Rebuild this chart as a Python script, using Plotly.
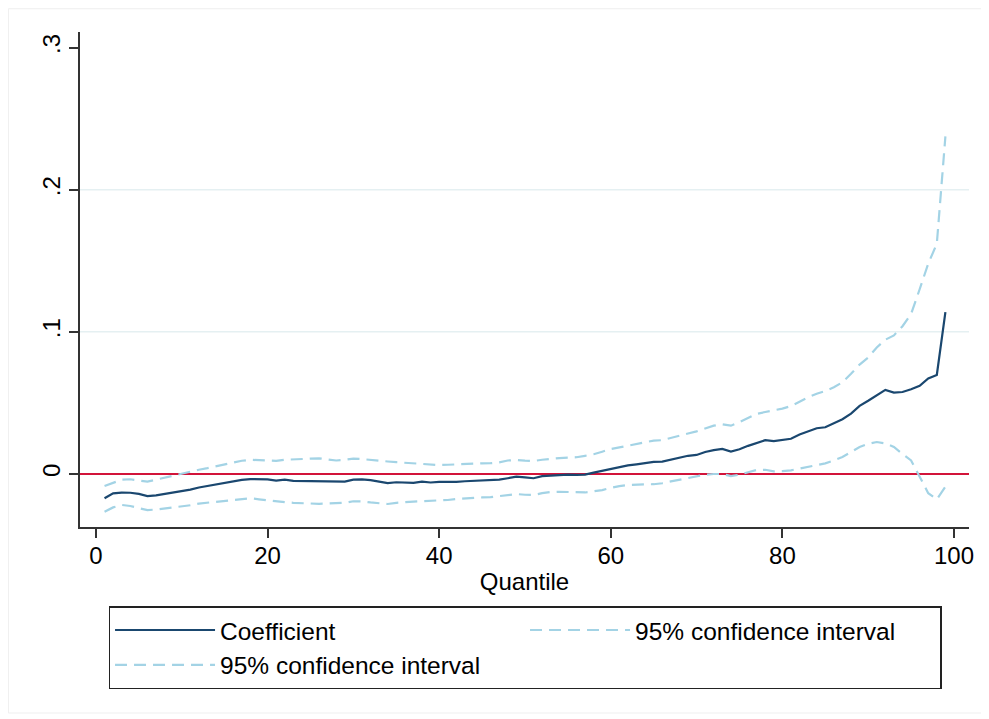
import plotly.graph_objects as go

quantile = list(range(1, 100))

coefficient = [
    -0.0171, -0.0136, -0.0131, -0.0132, -0.0140, -0.0155, -0.0150, -0.0140, -0.0132, -0.0124,
    -0.0110, -0.0095, -0.0084, -0.0077, -0.0064, -0.0053, -0.0042, -0.0036, -0.0037, -0.0038,
    -0.0046, -0.0040, -0.0048, -0.0049, -0.0054, -0.0051, -0.0055, -0.0055, -0.0054, -0.0040,
    -0.0038, -0.0043, -0.0056, -0.0064, -0.0058, -0.0058, -0.0062, -0.0054, -0.0060, -0.0056,
    -0.0058, -0.0056, -0.0051, -0.0048, -0.0046, -0.0044, -0.0040, -0.0030, -0.0019, -0.0024,
    -0.0030, -0.0015, -0.0011, -0.0008, -0.0005, -0.0006, -0.0004, 0.0010, 0.0022, 0.0036,
    0.0051, 0.0060, 0.0068, 0.0078, 0.0085, 0.0087, 0.0100, 0.0113, 0.0128, 0.0134,
    0.0155, 0.0168, 0.0176, 0.0158, 0.0174, 0.0198, 0.0220, 0.0238, 0.0232, 0.0240,
    0.0248, 0.0278, 0.0300, 0.0322, 0.0329, 0.0355, 0.0385, 0.0425, 0.0479, 0.0515,
    0.0553, 0.0592, 0.0573, 0.0577, 0.0596, 0.0620, 0.0672, 0.0697, 0.1139,
]

ci_upper = [
    -0.0085, -0.0060, -0.0040, -0.0037, -0.0045, -0.0054, -0.0040, -0.0025, -0.0015, 0.0000,
    0.0015, 0.0030, 0.0041, 0.0054, 0.0067, 0.0080, 0.0093, 0.0100, 0.0099, 0.0095,
    0.0092, 0.0100, 0.0104, 0.0104, 0.0108, 0.0110, 0.0104, 0.0095, 0.0100, 0.0108,
    0.0105, 0.0098, 0.0092, 0.0088, 0.0083, 0.0079, 0.0075, 0.0071, 0.0065, 0.0063,
    0.0065, 0.0068, 0.0073, 0.0075, 0.0075, 0.0076, 0.0082, 0.0095, 0.0099, 0.0094,
    0.0092, 0.0100, 0.0108, 0.0112, 0.0115, 0.0118, 0.0128, 0.0139, 0.0157, 0.0176,
    0.0187, 0.0198, 0.0211, 0.0224, 0.0235, 0.0238, 0.0255, 0.0270, 0.0285, 0.0300,
    0.0320, 0.0340, 0.0350, 0.0340, 0.0365, 0.0395, 0.0423, 0.0436, 0.0447, 0.0460,
    0.0478, 0.0510, 0.0540, 0.0565, 0.0584, 0.0610, 0.0645, 0.0705, 0.0770, 0.0820,
    0.0890, 0.0945, 0.0975, 0.1040, 0.1125, 0.1300, 0.1480, 0.1620, 0.2375,
]

ci_lower = [
    -0.0265, -0.0235, -0.0218, -0.0225, -0.0240, -0.0254, -0.0250, -0.0243, -0.0235, -0.0229,
    -0.0220, -0.0208, -0.0201, -0.0195, -0.0188, -0.0180, -0.0173, -0.0171, -0.0178, -0.0186,
    -0.0195, -0.0198, -0.0203, -0.0206, -0.0211, -0.0210, -0.0208, -0.0206, -0.0203, -0.0192,
    -0.0193, -0.0200, -0.0206, -0.0211, -0.0203, -0.0196, -0.0194, -0.0191, -0.0189, -0.0187,
    -0.0183, -0.0176, -0.0171, -0.0168, -0.0165, -0.0163, -0.0157, -0.0147, -0.0141, -0.0146,
    -0.0148, -0.0135, -0.0127, -0.0125, -0.0125, -0.0130, -0.0130, -0.0122, -0.0113, -0.0098,
    -0.0085, -0.0078, -0.0073, -0.0073, -0.0072, -0.0065, -0.0052, -0.0040, -0.0028, -0.0015,
    -0.0005, 0.0000, 0.0000, -0.0015, -0.0005, 0.0012, 0.0028, 0.0030, 0.0018, 0.0020,
    0.0026, 0.0038, 0.0050, 0.0062, 0.0075, 0.0095, 0.0120, 0.0155, 0.0190, 0.0212,
    0.0225, 0.0215, 0.0190, 0.0140, 0.0095, -0.0019, -0.0135, -0.0178, -0.0089,
]

x_ticks = [0, 20, 40, 60, 80, 100]
y_ticks = [0, 0.1, 0.2, 0.3]
y_tick_labels = ["0", ".1", ".2", ".3"]
grid_values = [0.1, 0.2]
reference_value = 0

NAVY = "#1A476F"
LIGHTBLUE = "#A3D3E5"
FONT = "Liberation Sans, Arial, sans-serif"

fig = go.Figure()
fig.add_trace(go.Scatter(
    x=quantile, y=coefficient, mode="lines", name="Coefficient",
    line=dict(color=NAVY, width=2.2),
))
fig.add_trace(go.Scatter(
    x=quantile, y=ci_upper, mode="lines", name="95% confidence interval",
    line=dict(color=LIGHTBLUE, width=2.2, dash="12px,7px"),
))
fig.add_trace(go.Scatter(
    x=quantile, y=ci_lower, mode="lines", name="95% confidence interval",
    line=dict(color=LIGHTBLUE, width=2.2, dash="12px,7px"),
))

shapes = []
for g in grid_values:
    shapes.append(dict(type="line", xref="paper", yref="y", x0=0, x1=1, y0=g, y1=g,
                       line=dict(color="#E5F0F2", width=1.5), layer="below"))
shapes.append(dict(type="line", xref="paper", yref="y", x0=0, x1=1,
                   y0=reference_value, y1=reference_value,
                   line=dict(color="#D2143A", width=2), layer="below"))
# faint outer frame of the graph region
shapes.append(dict(type="rect", xref="paper", yref="paper", x0=-0.0805, x1=1.0205,
                   y0=-0.3758, y1=1.047, line=dict(color="#EFEFEF", width=1)))

fig.update_layout(
    width=981, height=711,
    margin=dict(l=72, r=20, t=24, b=192),
    paper_bgcolor="white", plot_bgcolor="white",
    font=dict(family=FONT, size=24, color="black"),
    shapes=shapes,
    showlegend=True,
    legend=dict(
        orientation="h", x=0.5006, xanchor="center", y=-0.1597, yanchor="top",
        bordercolor="#222222", borderwidth=1.5, bgcolor="white",
        entrywidth=300, entrywidthmode="pixels", itemwidth=100,
        font=dict(family=FONT, size=24.5, color="black"),
        traceorder="normal",
    ),
    xaxis=dict(
        range=[-1.86, 101.75], tickvals=x_ticks, ticks="outside", ticklen=9,
        tickwidth=1.5, tickcolor="#333333", showline=True, linecolor="#333333",
        linewidth=1.5, showgrid=False, zeroline=False, ticklabelstandoff=-3,
        title=dict(text="Quantile", font=dict(size=24), standoff=6),
        tickfont=dict(size=24),
    ),
    yaxis=dict(
        range=[-0.0373, 0.311], tickvals=y_ticks, ticktext=y_tick_labels,
        tickangle=-90, ticks="outside", ticklen=9, tickwidth=1.5,
        tickcolor="#333333", showline=True, linecolor="#333333", linewidth=1.5,
        showgrid=False, zeroline=False, tickfont=dict(size=24),
    ),
)

fig.write_html("out.html")
